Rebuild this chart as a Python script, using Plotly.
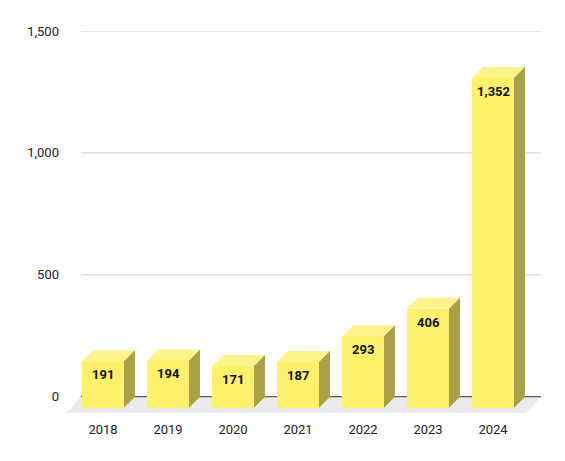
import plotly.graph_objects as go

# ---- data ----
categories = ["2018", "2019", "2020", "2021", "2022", "2023", "2024"]
values = [191, 194, 171, 187, 293, 406, 1352]
y_tickvals = [0, 500, 1000, 1500]
y_ticktext = ["0", "500", "1,000", "1,500"]

# ---- layout constants ----
W, H = 565, 461
ML, MR, MT, MB = 60, 20, 31, 46
PLOT_W = W - ML - MR
PLOT_H = H - MT - MB
Y_MIN, Y_MAX = -75, 1500
CAT_PX = 65.0            # pixels per category
FIRST_CENTER_PX = 103.0  # pixel x of first front face centre
X_MIN = (ML - FIRST_CENTER_PX) / CAT_PX
X_MAX = (W - MR - FIRST_CENTER_PX) / CAT_PX
PX_PER_Y = PLOT_H / (Y_MAX - Y_MIN)

DEPTH_PX = 11
DX = DEPTH_PX / CAT_PX
DY = DEPTH_PX / PX_PER_Y
BAR_W = 42 / CAT_PX

FRONT = "#fff06b"
TOP = "#fff48c"
SIDE = "#a9a047"
FLOOR = "#ebebeb"
GRID = "#cccccc"
ZERO = "#333333"
FONT = "Roboto"

xs = list(range(len(categories)))

fig = go.Figure()
fig.add_trace(go.Bar(
    x=xs, y=values, base=[-DY] * len(values), width=BAR_W,
    marker=dict(color=FRONT, line=dict(width=0)),
    hoverinfo="skip", showlegend=False,
))

shapes = []
# floor
gl = (81 - FIRST_CENTER_PX) / CAT_PX
gr = (541 - FIRST_CENTER_PX) / CAT_PX
fdx = 15 / CAT_PX
fdy = 16 / PX_PER_Y
shapes.append(dict(type="path", xref="x", yref="y", layer="below",
                   path=f"M {gl},0 L {gr},0 L {gr - fdx},{-fdy} L {gl - fdx},{-fdy} Z",
                   fillcolor=FLOOR, line=dict(width=0)))
# grid lines
for v in y_tickvals[1:]:
    shapes.append(dict(type="line", xref="x", yref="y", layer="below",
                       x0=gl, x1=gr, y0=v, y1=v, line=dict(color=GRID, width=1)))
shapes.append(dict(type="line", xref="x", yref="y", layer="below",
                   x0=gl, x1=gr, y0=0, y1=0, line=dict(color=ZERO, width=1)))
# top and side faces
for x, v in zip(xs, values):
    l, r = x - BAR_W / 2, x + BAR_W / 2
    shapes.append(dict(type="path", xref="x", yref="y", layer="below",
                       path=f"M {l},{v - DY} L {r},{v - DY} L {r + DX},{v} L {l + DX},{v} Z",
                       fillcolor=TOP, line=dict(width=0)))
    shapes.append(dict(type="path", xref="x", yref="y", layer="below",
                       path=f"M {r},{-DY} L {r},{v - DY} L {r + DX},{v} L {r + DX},0 Z",
                       fillcolor=SIDE, line=dict(width=0)))

annotations = []
for x, v in zip(xs, values):
    annotations.append(dict(x=x, y=v - DY, xref="x", yref="y", text=f"{v:,}",
                            showarrow=False, yanchor="middle", yshift=-13.5,
                            font=dict(family=FONT, size=13, color="#111111", weight="bold")))

fig.update_layout(
    width=W, height=H, margin=dict(l=ML, r=MR, t=MT, b=MB),
    paper_bgcolor="white", plot_bgcolor="white",
    shapes=shapes, annotations=annotations, bargap=0,
    font=dict(family=FONT, size=13, color="#222222"),
    xaxis=dict(range=[X_MIN, X_MAX], tickvals=xs, ticktext=categories,
               showgrid=False, zeroline=False, showline=False, ticks="",
               ticklabelstandoff=5, fixedrange=True),
    yaxis=dict(range=[Y_MIN, Y_MAX], tickvals=y_tickvals, ticktext=y_ticktext,
               showgrid=False, zeroline=False, showline=False, ticks="",
               fixedrange=True),
)
fig.write_html("out.html")
